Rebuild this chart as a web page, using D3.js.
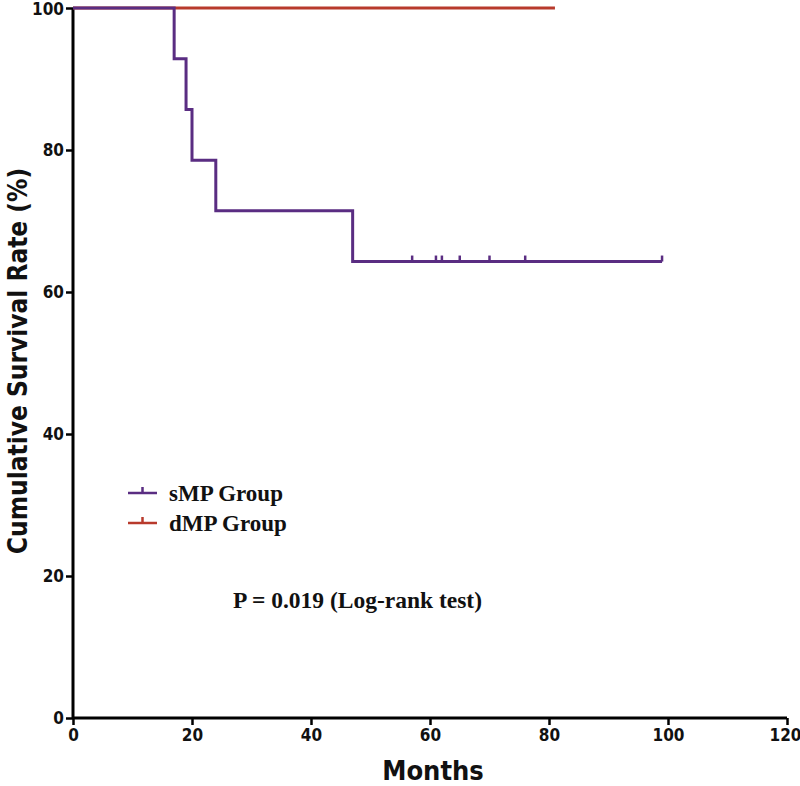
<!DOCTYPE html>
<html><head><meta charset="utf-8">
<script src="https://cdn.jsdelivr.net/npm/d3@7"></script>
<style>body{margin:0;background:#fff}
.ax{font-family:"DejaVu Sans Condensed","DejaVu Sans",sans-serif;font-stretch:condensed;font-weight:bold;}
.sf{font-family:"Liberation Serif","Times New Roman",serif;font-weight:bold;}
</style>
</head><body>
<svg id="c" width="800" height="786"></svg>
<script>
// Kaplan-Meier step data
const sMPTimes = [0, 17, 19, 20, 24, 47, 99];
const sMPSurv  = [100, 92.86, 85.71, 78.57, 71.43, 64.29, 64.29];
const sMPCensored = [57, 61, 62, 65, 70, 76, 99];
const dMPTimes = [0, 81];
const dMPSurv  = [100, 100];
const xTicks = [0, 20, 40, 60, 80, 100, 120];
const yTicks = [0, 20, 40, 60, 80, 100];
const seriesNames = ["sMP Group", "dMP Group"];
const pText = "P = 0.019 (Log-rank test)";

const colors = ["#5a2d82", "#b83a2c"];
const svg = d3.select("#c");
const x = d3.scaleLinear().domain([0,120]).range([73,787]);
const y = d3.scaleLinear().domain([0,100]).range([718,8]);

function stepPts(times, surv){
  const pts=[];
  for(let i=0;i<times.length;i++){
    if(i>0) pts.push([times[i], surv[i-1]]);
    pts.push([times[i], surv[i]]);
  }
  return pts;
}
const line = d3.line().x(d=>x(d[0])).y(d=>y(d[1]));

// axes
const gy = svg.append("g").attr("transform","translate(73,0)")
  .call(d3.axisLeft(y).tickValues(yTicks).tickSize(7).tickPadding(2));
const gx = svg.append("g").attr("transform","translate(0,718)")
  .call(d3.axisBottom(x).tickValues(xTicks).tickSize(7).tickPadding(4));
[gy,gx].forEach(g=>{
  g.attr("font-family",null).attr("font-size",null);
  g.select(".domain").attr("stroke","#000").attr("stroke-width",3);
  g.selectAll(".tick line").attr("stroke","#000").attr("stroke-width",2.5);
  g.selectAll(".tick text").attr("fill","#111").attr("class","ax")
   .style("font-size","17px");
});
gy.select(".domain").attr("d","M0,718V8");
gx.select(".domain").attr("d","M73,0H787");
// keep the end labels inside the frame
gx.selectAll(".tick text").filter(d=>d===120).attr("dx",-2);
gy.selectAll(".tick text").filter(d=>d===100).attr("dy","0.36em");

// curves
svg.append("path").datum(stepPts(dMPTimes,dMPSurv)).attr("d",line)
  .attr("fill","none").attr("stroke",colors[1]).attr("stroke-width",3);
svg.append("path").datum(stepPts(sMPTimes,sMPSurv)).attr("d",line)
  .attr("fill","none").attr("stroke",colors[0]).attr("stroke-width",3);
// censor marks
function survAt(t){let s=100;for(let i=0;i<sMPTimes.length;i++){if(sMPTimes[i]<=t) s=sMPSurv[i];}return s;}
svg.selectAll(".cens").data(sMPCensored).enter().append("line")
  .attr("x1",d=>x(d)).attr("x2",d=>x(d))
  .attr("y1",d=>y(survAt(d))).attr("y2",d=>y(survAt(d))-6)
  .attr("stroke",colors[0]).attr("stroke-width",2.5);

// legend
const leg = svg.append("g");
seriesNames.forEach((n,i)=>{
  const yy = 493 + i*30;
  leg.append("line").attr("x1",128).attr("x2",157).attr("y1",yy).attr("y2",yy)
    .attr("stroke",colors[i]).attr("stroke-width",2.5);
  leg.append("line").attr("x1",142.5).attr("x2",142.5).attr("y1",yy).attr("y2",yy-6)
    .attr("stroke",colors[i]).attr("stroke-width",2.5);
  leg.append("text").attr("x",169).attr("y",yy+8).text(n).attr("class","sf")
    .style("font-size","23px").attr("fill","#111");
});
svg.append("text").attr("x",233).attr("y",608).text(pText).attr("class","sf")
  .style("font-size","23.5px").attr("fill","#111");

// axis titles
svg.append("text").attr("x",433).attr("y",780).attr("text-anchor","middle")
  .text("Months").attr("class","ax").style("font-size","27px").attr("fill","#111");
svg.append("text").attr("transform","translate(27,361) rotate(-90)")
  .attr("text-anchor","middle").text("Cumulative Survival Rate (%)")
  .attr("class","ax").style("font-size","26px").attr("fill","#111");
</script>
</body></html>
